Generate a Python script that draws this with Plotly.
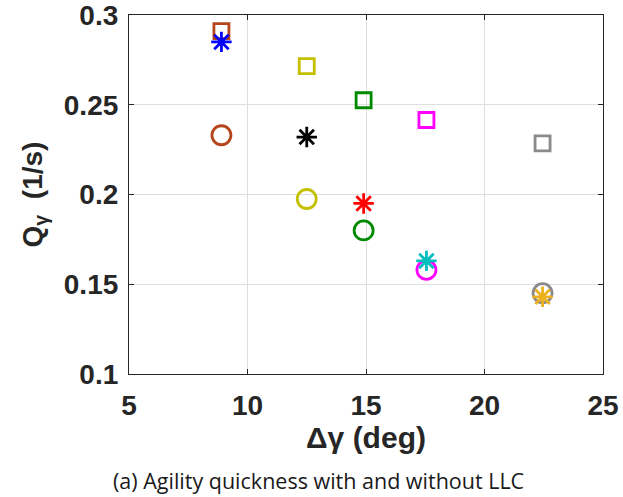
import plotly.graph_objects as go

# Heading change (deg) for the five manoeuvre cases
delta_gamma = [8.9, 12.5, 14.9, 17.55, 22.45]

# Agility quickness Q_gamma (1/s)
q_square = [0.291, 0.2715, 0.2525, 0.2415, 0.2285]
q_circle = [0.233, 0.1975, 0.180, 0.158, 0.145]
q_star = [0.285, 0.232, 0.195, 0.163, 0.143]

square_colors = ["#B5451B", "#C4C000", "#008A00", "#FF00FF", "#8A8A8A"]
circle_colors = ["#B5451B", "#C4C000", "#008A00", "#FF00FF", "#8A8A8A"]
star_colors = ["#0000FF", "#000000", "#FF0000", "#00BFBF", "#EDB120"]

x_ticks = [5, 10, 15, 20, 25]
y_ticks = [0.1, 0.15, 0.2, 0.25, 0.3]
y_tick_text = ["0.1", "0.15", "0.2", "0.25", "0.3"]

fig = go.Figure()

for symbol, values, colors, size in [
    ("square-open", q_square, square_colors, 15),
    ("circle-open", q_circle, circle_colors, 19),
    ("asterisk-open", q_star, star_colors, 17),
]:
    fig.add_trace(go.Scatter(
        x=delta_gamma, y=values, mode="markers",
        marker=dict(symbol=symbol, size=size, color=colors,
                    line=dict(width=2.8)),
        showlegend=False, hoverinfo="skip",
    ))

label_family = "Liberation Sans, Arial, sans-serif"
axis_font = dict(family=label_family, size=28, color="#262626", weight="bold")
common = dict(
    showline=True, linecolor="#262626", linewidth=1.2, mirror="ticks",
    ticks="inside", ticklen=5, tickcolor="#262626",
    showgrid=True, gridcolor="#DEDEDE", gridwidth=1, zeroline=False,
    tickfont=axis_font, automargin=False, ticklabeloverflow="allow",
)

fig.update_xaxes(
    range=[5, 25], tickvals=x_ticks, ticklabelstandoff=6,
    title=dict(text="<b>Δγ (deg)</b>", font=dict(family=label_family, size=30, color="#262626"), standoff=4),
    **common,
)
fig.update_yaxes(
    range=[0.1, 0.3], tickvals=y_ticks, ticktext=y_tick_text, ticklabelstandoff=4,
    title=dict(text="<b>Q<sub>γ</sub>  (1/s)</b>", font=dict(family=label_family, size=28, color="#262626"), standoff=12),
    **common,
)

fig.add_annotation(
    text="(a) Agility quickness with and without LLC",
    xref="paper", yref="paper", x=0.5, y=0, yshift=-106, xshift=-48,
    showarrow=False, yanchor="middle",
    font=dict(family="Open Sans, Noto Sans, sans-serif", size=21.5, color="#1a1a1a"),
)

fig.update_layout(
    width=623, height=497,
    margin=dict(l=129, r=20, t=15, b=123),
    plot_bgcolor="white", paper_bgcolor="white",
)

fig.write_html("out.html")
